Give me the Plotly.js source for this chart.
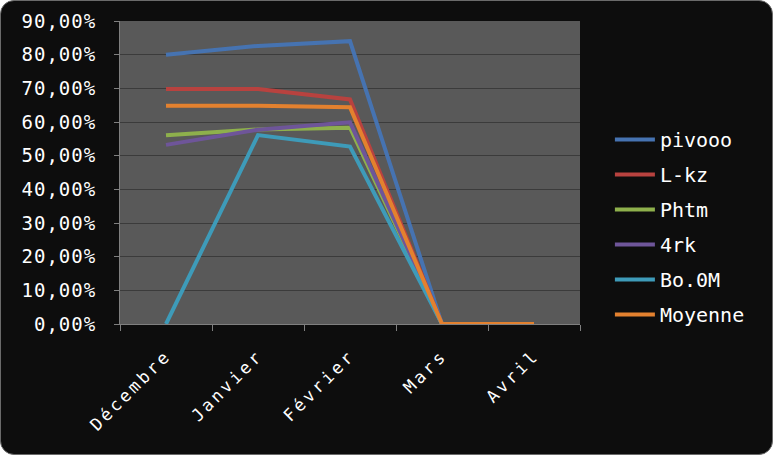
<!DOCTYPE html>
<html><head><meta charset="utf-8">
<script src="https://cdn.plot.ly/plotly-3.0.1.min.js"></script>
<style>
html,body{margin:0;padding:0;background:#ffffff;}
#wrap{position:absolute;left:0;top:0;width:771px;height:453px;background:#0d0d0d;border:1px solid #6a6a6a;border-radius:14px;overflow:hidden;}
#chart{width:773px;height:455px;position:absolute;left:-1px;top:-1px;}
#chart g.ytick text{letter-spacing:1px;}
#chart g.xtick text{letter-spacing:3px;}
#chart .legend .scrollbox{clip-path:none !important;}
</style></head>
<body><div id="wrap"><div id="chart"></div></div>
<script>
const months = ["Décembre","Janvier","Février","Mars","Avril"];
const seriesNames = ["pivooo","L-kz","Phtm","4rk","Bo.0M","Moyenne"];
const pivooo  = [0.800, 0.826, 0.840, 0, 0];
const lkz     = [0.698, 0.698, 0.667, 0, 0];
const phtm    = [0.561, 0.578, 0.583, 0, 0];
const rk4     = [0.532, 0.577, 0.599, 0, 0];
const bo0m    = [0.000, 0.561, 0.527, 0, 0];
const moyenne = [0.648, 0.648, 0.644, 0, 0];
const colors = ["#4673b1","#b8423f","#8eb04c","#6e5599","#3e9bb9","#e3812f"];
const values = [pivooo, lkz, phtm, rk4, bo0m, moyenne];

const traces = values.map((v,i)=>({
  type:"scatter", mode:"lines", x:months, y:v, name:seriesNames[i],
  legendgroup:"g"+i,
  line:{color:colors[i], width:4}, hoverinfo:"skip"
}));

const mono = "DejaVu Sans Mono, Liberation Mono, monospace";
const layout = {
  width:773, height:455,
  paper_bgcolor:"rgba(0,0,0,0)", plot_bgcolor:"#595959",
  margin:{l:120, r:193, t:21, b:131},
  separators:", ",
  showlegend:true,
  legend:{x:1.065, xanchor:"left", xref:"paper", y:0.32, yanchor:"middle",
          font:{family:mono, size:20, color:"#ffffff"},
          traceorder:"grouped", tracegroupgap:6, itemwidth:40,
          bgcolor:"rgba(0,0,0,0)"},
  xaxis:{type:"category", range:[-0.5,4.5], tickangle:-45, tickson:"boundaries",
         ticks:"outside", ticklen:6, tickcolor:"#7f7f7f", ticklabelstandoff:14,
         showline:true, linecolor:"#7f7f7f", linewidth:1, showgrid:false,
         tickfont:{family:mono, size:17, color:"#ffffff"}, fixedrange:true},
  yaxis:{range:[0,0.9], dtick:0.1, tickformat:".2%",
         ticks:"outside", ticklen:5, tickcolor:"#7f7f7f", ticklabelstandoff:14,
         showline:true, linecolor:"#7f7f7f", linewidth:1,
         showgrid:true, gridcolor:"#3b3b3b", gridwidth:1, zeroline:false,
         tickfont:{family:mono, size:19, color:"#ffffff"}, fixedrange:true}
};
Plotly.newPlot("chart", traces, layout, {displayModeBar:false, staticPlot:true});
</script></body></html>
